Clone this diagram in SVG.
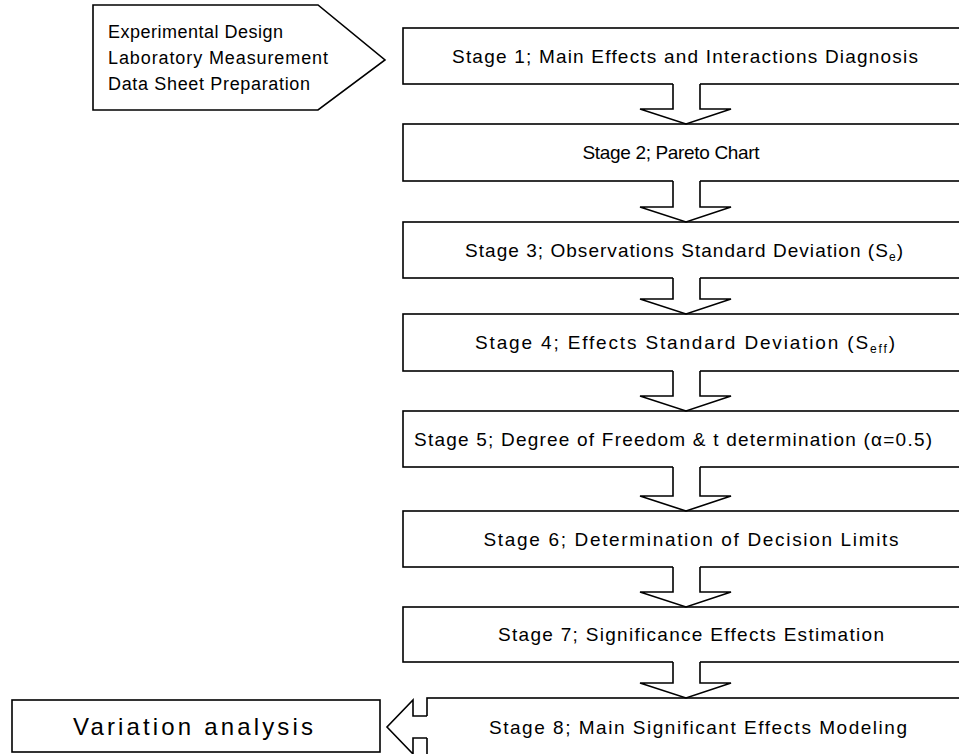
<svg xmlns="http://www.w3.org/2000/svg" width="959" height="754" viewBox="0 0 959 754">
<style>
.box{fill:#fff;stroke:#000;stroke-width:1.6}
.fill{fill:#fff;stroke:none}
.line{fill:none;stroke:#000;stroke-width:1.6;stroke-linejoin:miter}
.t{font-family:"Liberation Sans",Arial,sans-serif;font-size:19px;fill:#000;text-anchor:middle}
.tl{font-family:"Liberation Sans",Arial,sans-serif;font-size:18px;fill:#000}
.sub{font-size:12px}
</style>
<rect width="959" height="754" fill="#fff"/>
<g id="input">
<polygon class="box" points="93,5 318,5 385,60 318,110 93,110"/>
<text class="tl" x="108" y="38" textLength="175" lengthAdjust="spacing">Experimental Design</text>
<text class="tl" x="108" y="64" textLength="220" lengthAdjust="spacing">Laboratory Measurement</text>
<text class="tl" x="108" y="90" textLength="202" lengthAdjust="spacing">Data Sheet Preparation</text>
</g>
<g id="stage1"><rect class="box" x="403" y="28" width="570" height="56"/>
<text class="t" x="685" y="63" textLength="466" lengthAdjust="spacing">Stage 1; Main Effects and Interactions Diagnosis</text></g>
<g id="stage2"><rect class="box" x="403" y="124" width="570" height="57"/>
<text class="t" x="671" y="159" textLength="177" lengthAdjust="spacing">Stage 2; Pareto Chart</text></g>
<g id="stage3"><rect class="box" x="403" y="222" width="570" height="56"/>
<text class="t" x="684" y="257" textLength="438" lengthAdjust="spacing">Stage 3; Observations Standard Deviation (S<tspan class="sub" dy="4">e</tspan><tspan dy="-4">)</tspan></text></g>
<g id="stage4"><rect class="box" x="403" y="314" width="570" height="57"/>
<text class="t" x="685" y="349" textLength="420" lengthAdjust="spacing">Stage 4; Effects Standard Deviation (S<tspan class="sub" dy="4">eff</tspan><tspan dy="-4">)</tspan></text></g>
<g id="stage5"><rect class="box" x="403" y="411" width="570" height="56"/>
<text class="t" x="673" y="446" textLength="518" lengthAdjust="spacing">Stage 5; Degree of Freedom &amp; t determination (α=0.5)</text></g>
<g id="stage6"><rect class="box" x="403" y="511" width="570" height="56"/>
<text class="t" x="691" y="546" textLength="415" lengthAdjust="spacing">Stage 6; Determination of Decision Limits</text></g>
<g id="stage7"><rect class="box" x="403" y="607" width="570" height="55"/>
<text class="t" x="691" y="641" textLength="386" lengthAdjust="spacing">Stage 7; Significance Effects Estimation</text></g>
<g id="stage8"><rect class="box" x="427" y="698" width="546" height="70"/>
<text class="t" x="698" y="734" textLength="418" lengthAdjust="spacing">Stage 8; Main Significant Effects Modeling</text></g>
<g id="variation"><rect class="box" x="12" y="700" width="368" height="52"/>
<text class="t" x="193" y="735" style="font-size:24px" textLength="240" lengthAdjust="spacing">Variation analysis</text></g>
<g id="connectors">
<g>
<polygon class="fill" points="673,82 700,82 700,109 731,109 686,124 640,109 673,109"/>
<path class="line" d="M673,84 V109 H640 L686,124 L731,109 H700 V84"/>
</g>
<g>
<polygon class="fill" points="673,179 700,179 700,207 731,207 686,222 640,207 673,207"/>
<path class="line" d="M673,181 V207 H640 L686,222 L731,207 H700 V181"/>
</g>
<g>
<polygon class="fill" points="673,276 700,276 700,299 731,299 686,314 640,299 673,299"/>
<path class="line" d="M673,278 V299 H640 L686,314 L731,299 H700 V278"/>
</g>
<g>
<polygon class="fill" points="673,369 700,369 700,396 731,396 686,411 640,396 673,396"/>
<path class="line" d="M673,371 V396 H640 L686,411 L731,396 H700 V371"/>
</g>
<g>
<polygon class="fill" points="673,465 700,465 700,496 731,496 686,511 640,496 673,496"/>
<path class="line" d="M673,467 V496 H640 L686,511 L731,496 H700 V467"/>
</g>
<g>
<polygon class="fill" points="673,565 700,565 700,592 731,592 686,607 640,592 673,592"/>
<path class="line" d="M673,567 V592 H640 L686,607 L731,592 H700 V567"/>
</g>
<g>
<polygon class="fill" points="673,660 700,660 700,683 731,683 686,698 640,683 673,683"/>
<path class="line" d="M673,662 V683 H640 L686,698 L731,683 H700 V662"/>
</g>
<g>
<polygon class="fill" points="429,716 429,738 413,738 413,754 387,727 413,700 413,716"/>
<path class="line" d="M427,716 H413 V700 L387,727 L413,754 V738 H427"/>
</g>
</g>
</svg>
